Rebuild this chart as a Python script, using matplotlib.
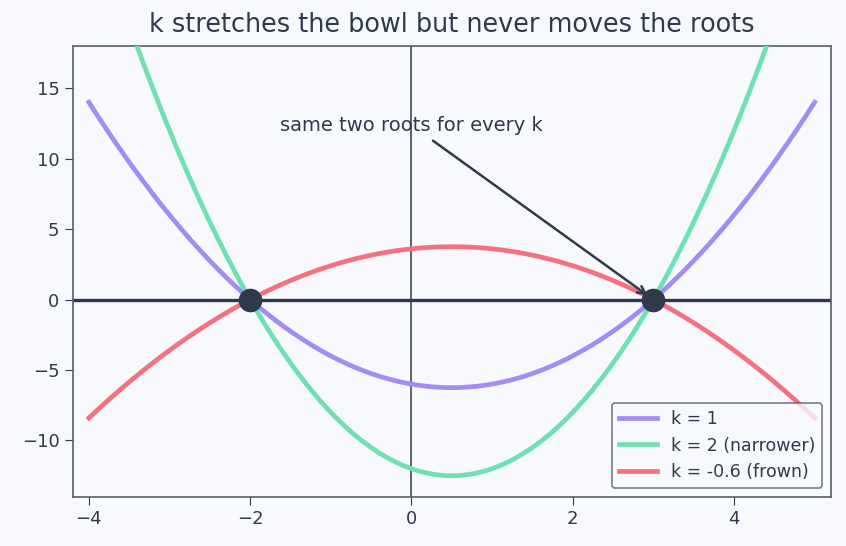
import numpy as np
import matplotlib.pyplot as plt

# roots and stretch factors
roots = [-2, 3]
k_values = [1, 2, -0.6]
labels = ['k = 1', 'k = 2 (narrower)', 'k = -0.6 (frown)']
colors = ['#a38cf4', '#6fe0b4', '#f57182']

x = np.linspace(-4, 5, 400)

dark = '#2e3a4b'
bg = '#f8f9fc'

fig, ax = plt.subplots(figsize=(8.46, 5.46), dpi=100)
fig.patch.set_facecolor(bg)
ax.set_facecolor(bg)

for k, lab, c in zip(k_values, labels, colors):
    y = k * (x - roots[0]) * (x - roots[1])
    ax.plot(x, y, color=c, lw=3.4, label=lab, zorder=3)

ax.axhline(0, color=dark, lw=2.4, zorder=2)
ax.axvline(0, color=dark, lw=1.1, zorder=2)
ax.plot(roots, [0, 0], 'o', color=dark, ms=16, zorder=5)

ax.annotate('same two roots for every k', xy=(roots[1], 0), xytext=(0, 11.7),
            ha='center', va='bottom', fontsize=14, color=dark,
            arrowprops=dict(arrowstyle='->', color=dark, lw=1.8, shrinkA=4, shrinkB=5))

ax.set_xlim(-4.2, 5.2)
ax.set_ylim(-14, 18)
ax.set_title('k stretches the bowl but never moves the roots', fontsize=18.4,
             color=dark, pad=10)
ax.tick_params(labelsize=13, colors=dark, length=6)
for s in ax.spines.values():
    s.set_color('#5a5e6a')
    s.set_linewidth(1.2)

leg = ax.legend(loc='lower right', fontsize=12.5, facecolor=bg, edgecolor='#5a5e6a',
                labelcolor=dark, handlelength=2.2)
leg.get_frame().set_linewidth(1.2)

fig.subplots_adjust(left=0.086, right=0.982, top=0.916, bottom=0.09)
fig.savefig('out.png', dpi=100, facecolor=bg)
